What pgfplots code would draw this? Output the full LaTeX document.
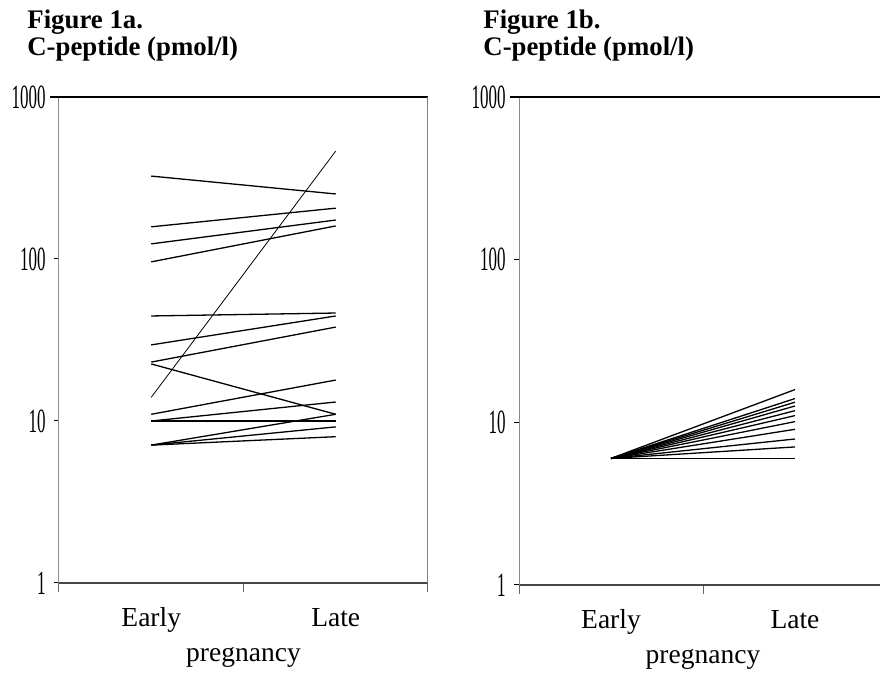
\documentclass[border=0pt]{standalone}
\usepackage{pgfplots}
\pgfplotsset{compat=1.18}
\usepackage{graphicx}
\usepackage{fontspec}
\setmainfont{Liberation Serif}

% 1 px of the reference = 0.5pt
\newcommand{\tl}[1]{\scalebox{0.5}[1]{#1}}

\begin{document}
\begin{tikzpicture}

% Figure 1a
\begin{axis}[
  at={(29.5pt,-291.5pt)}, anchor=south west,
  scale only axis, width=184.5pt, height=243pt,
  clip=false,
  ymode=log, ymin=1, ymax=1000,
  xmin=0, xmax=2,
  axis x line*=bottom, axis y line*=left,
  x axis line style={-, draw=black!72, line width=0.85pt},
  y axis line style={-, draw=black!45, line width=0.5pt},
  xtick={0,1,2}, x tick label as interval,
  xticklabels={Early,Late},
  ytick={1,10,100,1000},
  yticklabels={\tl{1},\tl{10},\tl{100},\tl{1000}},
  yminorticks=false,
  tick align=outside,
  major tick length=2.5pt,
  xtick style={draw=black!60, line width=0.5pt, /pgfplots/major tick length=4.5pt},
  ytick style={draw=black, line width=0.5pt},
  xticklabel style={font=\fontsize{13.75}{14}\selectfont, anchor=base, yshift=-19.5pt},
  yticklabel style={font=\fontsize{17}{17}\selectfont, anchor=east, inner sep=0pt, xshift=-4pt},
  xlabel={pregnancy},
  xlabel style={font=\fontsize{13.75}{14}\selectfont, at={(axis description cs:0.5,0)}, anchor=base, yshift=-39.5pt},
]
\addplot[black, line width=0.65pt] coordinates {(0.5,325) (1.5,252)};
\addplot[black, line width=0.65pt] coordinates {(0.5,158) (1.5,206)};
\addplot[black, line width=0.65pt] coordinates {(0.5,124) (1.5,174)};
\addplot[black, line width=0.65pt] coordinates {(0.5,96) (1.5,160)};
\addplot[black, line width=0.4pt] coordinates {(0.5,14) (1.5,464)};
\addplot[black, line width=0.65pt] coordinates {(0.5,44.5) (1.5,46.4)};
\addplot[black, line width=0.65pt] coordinates {(0.5,29.5) (1.5,44.5)};
\addplot[black, line width=0.65pt] coordinates {(0.5,23.1) (1.5,38)};
\addplot[black, line width=0.65pt] coordinates {(0.5,22.5) (1.5,11)};
\addplot[black, line width=0.65pt] coordinates {(0.5,11) (1.5,17.9)};
\addplot[black, line width=0.65pt] coordinates {(0.5,10) (1.5,13.1)};
\addplot[black, line width=0.65pt] coordinates {(0.5,10) (1.5,10)};
\addplot[black, line width=0.65pt] coordinates {(0.5,7.1) (1.5,11)};
\addplot[black, line width=0.65pt] coordinates {(0.5,7.1) (1.5,9.2)};
\addplot[black, line width=0.65pt] coordinates {(0.5,7.1) (1.5,8.0)};
\draw[black, line width=0.6pt] ([xshift=-4.5pt]rel axis cs:0,1) -- (rel axis cs:1,1);
\draw[black!50, line width=0.5pt] (rel axis cs:1,0) -- (rel axis cs:1,1);
\end{axis}

% Figure 1b
\begin{axis}[
  at={(259.5pt,-292.5pt)}, anchor=south west,
  scale only axis, width=184pt, height=244pt,
  clip=false,
  ymode=log, ymin=1, ymax=1000,
  xmin=0, xmax=2,
  axis x line*=bottom, axis y line*=left,
  x axis line style={-, draw=black!72, line width=0.85pt},
  y axis line style={-, draw=black!45, line width=0.5pt},
  xtick={0,1,2}, x tick label as interval,
  xticklabels={Early,Late},
  ytick={1,10,100,1000},
  yticklabels={\tl{1},\tl{10},\tl{100},\tl{1000}},
  yminorticks=false,
  tick align=outside,
  major tick length=2.5pt,
  xtick style={draw=black!60, line width=0.5pt, /pgfplots/major tick length=4.5pt},
  ytick style={draw=black, line width=0.5pt},
  xticklabel style={font=\fontsize{13.75}{14}\selectfont, anchor=base, yshift=-19.5pt},
  yticklabel style={font=\fontsize{17}{17}\selectfont, anchor=east, inner sep=0pt, xshift=-4pt},
  xlabel={pregnancy},
  xlabel style={font=\fontsize{13.75}{14}\selectfont, at={(axis description cs:0.5,0)}, anchor=base, yshift=-39.5pt},
]
\addplot[black, line width=0.65pt] coordinates {(0.5,6) (1.5,15.9)};
\addplot[black, line width=0.65pt] coordinates {(0.5,6) (1.5,14.0)};
\addplot[black, line width=0.65pt] coordinates {(0.5,6) (1.5,13.3)};
\addplot[black, line width=0.65pt] coordinates {(0.5,6) (1.5,12.6)};
\addplot[black, line width=0.65pt] coordinates {(0.5,6) (1.5,11.8)};
\addplot[black, line width=0.65pt] coordinates {(0.5,6) (1.5,11.0)};
\addplot[black, line width=0.65pt] coordinates {(0.5,6) (1.5,10.1)};
\addplot[black, line width=0.65pt] coordinates {(0.5,6) (1.5,9.06)};
\addplot[black, line width=0.65pt] coordinates {(0.5,6) (1.5,7.9)};
\addplot[black, line width=0.65pt] coordinates {(0.5,6) (1.5,7.06)};
\addplot[black, line width=0.65pt] coordinates {(0.5,6) (1.5,6.0)};
\draw[black, line width=0.6pt] ([xshift=-4.5pt]rel axis cs:0,1) -- (rel axis cs:1,1);
\draw[black!50, line width=0.5pt] (rel axis cs:1,0) -- (rel axis cs:1,1);
\end{axis}

\node[anchor=base west, font=\bfseries\fontsize{13.4}{15}\selectfont, inner sep=0pt] at (13.5pt,-14.5pt) {Figure 1a.};
\node[anchor=base west, font=\bfseries\fontsize{13.4}{15}\selectfont, inner sep=0pt] at (13.5pt,-28pt) {C-peptide (pmol/l)};
\node[anchor=base west, font=\bfseries\fontsize{13.4}{15}\selectfont, inner sep=0pt] at (241.5pt,-14.5pt) {Figure 1b.};
\node[anchor=base west, font=\bfseries\fontsize{13.4}{15}\selectfont, inner sep=0pt] at (241.5pt,-28pt) {C-peptide (pmol/l)};

\pgfresetboundingbox
\path (0,0) rectangle (440pt,-336.5pt);
\end{tikzpicture}
\end{document}
